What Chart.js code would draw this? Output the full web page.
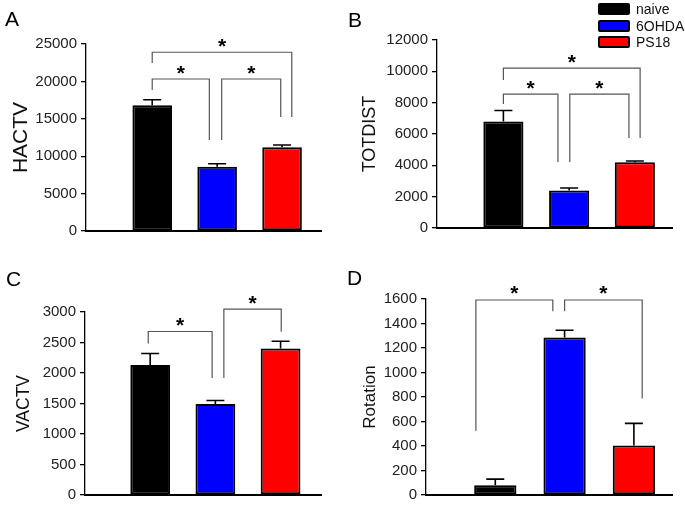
<!DOCTYPE html>
<html>
<head>
<meta charset="utf-8">
<script src="https://cdn.jsdelivr.net/npm/chart.js@4.4.0/dist/chart.umd.min.js"></script>
<style>
    body { margin: 0; background: #fff; width: 685px; height: 508px; overflow: hidden; position: relative; font-family: "Liberation Sans", Arial, sans-serif; }
    .panel { position: absolute; width: 342px; height: 254px; }
    .letter { position: absolute; font-size: 21px; line-height: 20px; color: #000; }
    #legend { position: absolute; left: 598px; top: 1px; font-size: 14px; color: #111; }
    .item { height: 16.5px; display: flex; align-items: center; }
    .box { width: 28px; height: 8px; border: 2px solid #000; border-radius: 2px; margin-right: 6px; }
</style>
</head>
<body>
<div class="panel" style="left:0;top:0"><canvas id="chartA" width="342" height="254"></canvas></div>
<div class="panel" style="left:342px;top:0"><canvas id="chartB" width="342" height="254"></canvas></div>
<div class="panel" style="left:0;top:254px"><canvas id="chartC" width="342" height="254"></canvas></div>
<div class="panel" style="left:342px;top:254px"><canvas id="chartD" width="342" height="254"></canvas></div>
<div class="letter" style="left:5px;top:9px">A</div>
<div class="letter" style="left:348px;top:10px">B</div>
<div class="letter" style="left:6px;top:269px">C</div>
<div class="letter" style="left:347px;top:268px">D</div>
<div id="legend"></div>
<script>
/*Groups*/
var groups = ['naive', '6OHDA', 'PS18'];
var groupColors = ['#000000', '#0000ff', '#ff0000'];
var groupX = [1, 2, 3];

/*Means and SEM*/
var hactvMean = [16800, 8600, 11200];
var hactvSem = [750, 400, 300];
var totdistMean = [6800, 2400, 4200];
var totdistSem = [700, 150, 80];
var vactvMean = [2130, 1490, 2400];
var vactvSem = [190, 60, 120];
var rotationMean = [80, 1285, 405];
var rotationSem = [50, 60, 180];

/*Y tick labels*/
var hactvTicks = [0, 5000, 10000, 15000, 20000, 25000];
var totdistTicks = [0, 2000, 4000, 6000, 8000, 10000, 12000];
var vactvTicks = [0, 500, 1000, 1500, 2000, 2500, 3000];
var rotationTicks = [0, 200, 400, 600, 800, 1000, 1200, 1400, 1600];

var fontFamily = '"Liberation Sans", Arial, sans-serif';

/*Error bars and significance brackets*/
var panelMarks = {
    id: 'panelMarks',
    afterDatasetsDraw: function (chart, args, opts) {
        var ctx = chart.ctx;
        var xs = chart.scales.x;
        var ys = chart.scales.y;
        var meta = chart.getDatasetMeta(0);
        var values = chart.data.datasets[0].data;
        ctx.save();
        ctx.strokeStyle = '#000';
        ctx.lineWidth = 1.6;
        meta.data.forEach(function (bar, i) {
            var top = ys.getPixelForValue(values[i].y);
            var tip = ys.getPixelForValue(values[i].y + opts.sem[i]);
            ctx.beginPath();
            ctx.moveTo(bar.x, top);
            ctx.lineTo(bar.x, tip);
            ctx.moveTo(bar.x - 9, tip);
            ctx.lineTo(bar.x + 9, tip);
            ctx.stroke();
        });
        ctx.strokeStyle = '#555';
        ctx.lineWidth = 1.2;
        ctx.fillStyle = '#000';
        ctx.font = 'bold 21px ' + fontFamily;
        ctx.textAlign = 'center';
        ctx.textBaseline = 'alphabetic';
        opts.brackets.forEach(function (b) {
            var x1 = xs.getPixelForValue(b.from);
            var x2 = xs.getPixelForValue(b.to);
            var y = ys.getPixelForValue(b.y);
            ctx.beginPath();
            ctx.moveTo(x1, ys.getPixelForValue(b.leg1));
            ctx.lineTo(x1, y);
            ctx.lineTo(x2, y);
            ctx.lineTo(x2, ys.getPixelForValue(b.leg2));
            ctx.stroke();
            ctx.fillText('*', (x1 + x2) / 2, y + 0.5);
        });
        ctx.restore();
    }
};

/*Build one panel*/
function makePanel(id, title, mean, sem, ticks, p) {
    var points = mean.map(function (v, i) { return { x: groupX[i], y: v }; });
    return new Chart(document.getElementById(id), {
        type: 'bar',
        data: {
            labels: groups,
            datasets: [{
                data: points,
                backgroundColor: groupColors,
                borderColor: '#000',
                borderWidth: 2,
                borderSkipped: false,
                barPercentage: 0.61,
                categoryPercentage: 1
            }]
        },
        options: {
            responsive: false,
            animation: false,
            layout: { padding: { left: 0, top: p.top, right: 342 - p.right, bottom: 254 - p.bottom } },
            plugins: {
                legend: { display: false },
                title: { display: false },
                tooltip: { enabled: false },
                panelMarks: { sem: sem, brackets: p.brackets }
            },
            scales: {
                x: {
                    type: 'linear',
                    min: p.xmin,
                    max: p.xmax,
                    offset: false,
                    ticks: { display: false, stepSize: 1, includeBounds: false },
                    grid: { display: false },
                    border: { display: true, color: '#000', width: 2 },
                    afterFit: function (scale) { scale.height = 0; }
                },
                y: {
                    min: ticks[0],
                    max: ticks[ticks.length - 1],
                    ticks: {
                        stepSize: ticks[1] - ticks[0],
                        color: '#222',
                        padding: 4,
                        font: { family: fontFamily, size: 15 },
                        callback: function (value) { return String(value); }
                    },
                    grid: { display: true, drawOnChartArea: false, drawTicks: true, tickLength: 5, color: '#000', lineWidth: 1.3 },
                    border: { display: true, color: '#000', width: 1.3 },
                    title: { display: true, text: title, color: '#111', font: { family: fontFamily, size: p.titleSize }, padding: { top: p.titlePad, bottom: 0 } },
                    afterFit: function (scale) { scale.width = p.left; }
                }
            }
        },
        plugins: [panelMarks]
    });
}

makePanel('chartA', 'HACTV', hactvMean, hactvSem, hactvTicks, {
    left: 86, top: 44, right: 321, bottom: 231, xmin: -0.02, xmax: 3.6, titlePad: 9, titleSize: 21,
    brackets: [
        { from: 1, to: 3.15, y: 23900, leg1: 22460, leg2: 15240 },
        { from: 1, to: 1.88, y: 20320, leg1: 18850, leg2: 12170 },
        { from: 2.07, to: 2.98, y: 20320, leg1: 12170, leg2: 15240 }
    ]
});
makePanel('chartB', 'TOTDIST', totdistMean, totdistSem, totdistTicks, {
    left: 95, top: 40, right: 330, bottom: 228, xmin: -0.01, xmax: 3.565, titlePad: 17, titleSize: 18,
    brackets: [
        { from: 1, to: 3.08, y: 10200, leg1: 9450, leg2: 5745 },
        { from: 1, to: 1.83, y: 8550, leg1: 7915, leg2: 4213 },
        { from: 2.01, to: 2.91, y: 8550, leg1: 4213, leg2: 5745 }
    ]
});
makePanel('chartC', 'VACTV', vactvMean, vactvSem, vactvTicks, {
    left: 85, top: 58, right: 321, bottom: 244, xmin: 0, xmax: 3.62, titlePad: 14, titleSize: 17.5,
    brackets: [
        { from: 0.97, to: 1.95, y: 2680, leg1: 2484, leg2: 1919 },
        { from: 2.13, to: 3.01, y: 3048, leg1: 1919, leg2: 2677 }
    ]
});
makePanel('chartD', 'Rotation', rotationMean, rotationSem, rotationTicks, {
    left: 84, top: 45, right: 330, bottom: 244, xmin: 0, xmax: 3.55, titlePad: 18, titleSize: 17,
    brackets: [
        { from: 0.72, to: 1.83, y: 1592, leg1: 524, leg2: 1500 },
        { from: 2.0, to: 3.12, y: 1592, leg1: 1500, leg2: 787 }
    ]
});

/*Legend*/
var html = '';
groups.forEach(function (g, i) {
    html += '<div class="item"><span class="box" style="background:' + groupColors[i] + '"></span>' + g + '</div>';
});
document.getElementById('legend').innerHTML = html;
</script>
</body>
</html>
